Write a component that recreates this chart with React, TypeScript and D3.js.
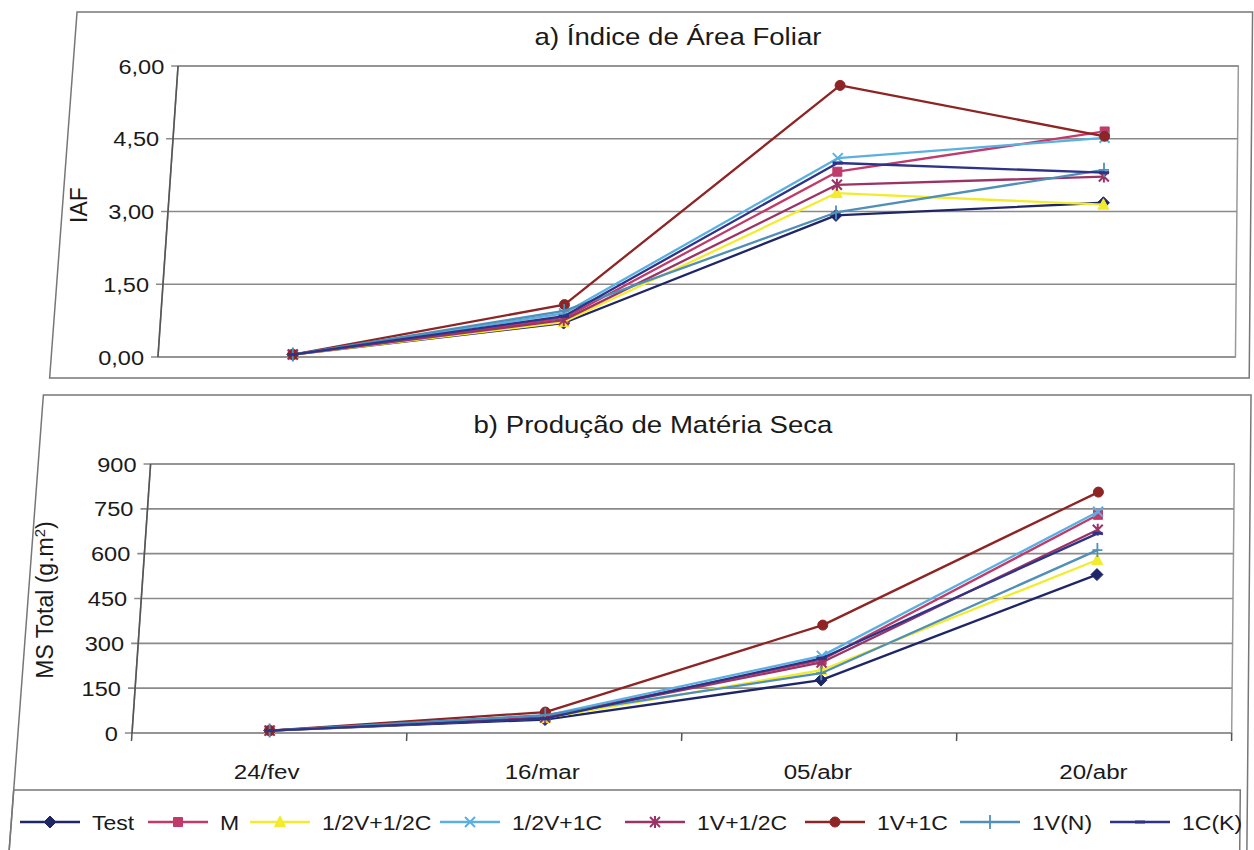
import React from "react";
import * as d3 from "d3";

// ---------- data ----------
const categories = ["24/fev", "16/mar", "05/abr", "20/abr"];
const seriesNames = ["Test", "M", "1/2V+1/2C", "1/2V+1C", "1V+1/2C", "1V+1C", "1V(N)", "1C(K)"];
const seriesColors = ["#1f2668", "#c03a6a", "#f2ec2c", "#5ab0e0", "#9b3466", "#8e2424", "#4f8fb8", "#2d3387"];
const seriesMarkers = ["diamond", "square", "triangle", "x", "star", "circle", "plus", "dash"];

// a) Índice de Área Foliar (IAF)
const iafTest = [0.05, 0.7, 2.92, 3.18];
const iafM = [0.05, 0.8, 3.82, 4.65];
const iafHalfVHalfC = [0.05, 0.72, 3.38, 3.14];
const iafHalfV1C = [0.05, 0.9, 4.1, 4.52];
const iaf1VHalfC = [0.05, 0.76, 3.55, 3.72];
const iaf1V1C = [0.05, 1.08, 5.6, 4.55];
const iaf1VN = [0.05, 0.95, 2.98, 3.86];
const iaf1CK = [0.05, 0.84, 4.0, 3.8];

// b) Produção de Matéria Seca (MS Total g.m-2)
const msTest = [8, 45, 177, 530];
const msM = [8, 55, 244, 730];
const msHalfVHalfC = [8, 50, 210, 579];
const msHalfV1C = [8, 58, 258, 740];
const ms1VHalfC = [8, 52, 236, 680];
const ms1V1C = [8, 70, 361, 806];
const ms1VN = [8, 60, 200, 612];
const ms1CK = [8, 48, 250, 668];

const iafTicks = [0, 1.5, 3, 4.5, 6];
const msTicks = [0, 150, 300, 450, 600, 750, 900];

const iafSeries = [iafTest, iafM, iafHalfVHalfC, iafHalfV1C, iaf1VHalfC, iaf1V1C, iaf1VN, iaf1CK];
const msSeries = [msTest, msM, msHalfVHalfC, msHalfV1C, ms1VHalfC, ms1V1C, ms1VN, ms1CK];

// ---------- layout ----------
const W = 1254;
const H = 850;
const X0 = 155;
const X1 = 1235;
const K0 = -0.069;
const K1 = -0.01;
const YREF = 400;
const SX = 1.15;
const FONT = "'Liberation Sans', Arial, sans-serif";

// scanned page keystone: left side leans, right side nearly upright
const warp = (x: number, y: number) => x + (K0 + ((K1 - K0) * (x - X0)) / (X1 - X0)) * (y - YREF);

const xBand = d3.scaleBand<string>().domain(categories).range([X0, X1]);
const xc = (c: string) => (xBand(c) as number) + xBand.bandwidth() / 2;
const yIaf = d3.scaleLinear().domain([0, 6]).range([357, 66]);
const yMs = d3.scaleLinear().domain([0, 900]).range([733, 464]);

const lineGen = d3.line<[number, number]>().x((d) => d[0]).y((d) => d[1]);

function Txt(props: { x: number; y: number; size: number; anchor?: string; rotate?: number; children: React.ReactNode }) {
  const { x, y, size, anchor = "start", rotate = 0, children } = props;
  const tf = rotate ? `translate(${x},${y}) rotate(${rotate})` : `translate(${x},${y}) scale(${SX},1)`;
  return (
    <text transform={tf} fontFamily={FONT} fontSize={size} textAnchor={anchor} fill="#1a1a1a">
      {children}
    </text>
  );
}

function Marker({ type, x, y, color }: { type: string; x: number; y: number; color: string }) {
  const t = `translate(${x},${y})`;
  if (type === "diamond") return <path transform={t} d="M0,-6L6,0L0,6L-6,0Z" fill={color} stroke={color} />;
  if (type === "square") return <path transform={t} d="M-4.5,-4.5H4.5V4.5H-4.5Z" fill={color} stroke={color} />;
  if (type === "triangle") return <path transform={t} d="M0,-6L5.5,4.5H-5.5Z" fill={color} stroke={color} />;
  if (type === "circle") return <circle transform={t} r={5} fill={color} stroke={color} />;
  if (type === "x") return <path transform={t} d="M-5,-5L5,5M-5,5L5,-5" stroke={color} strokeWidth={2} fill="none" />;
  if (type === "star") return <path transform={t} d="M-5,-5L5,5M-5,5L5,-5M0,-6L0,6" stroke={color} strokeWidth={2} fill="none" />;
  if (type === "plus") return <path transform={t} d="M0,-7L0,7M-5,0L5,0" stroke={color} strokeWidth={1.8} fill="none" />;
  return <path transform={t} d="M-5,0L5,0" stroke={color} strokeWidth={3} fill="none" />;
}

function Panel({ series, y, ticks, fmt }: { series: number[][]; y: d3.ScaleLinear<number, number>; ticks: number[]; fmt: (v: number) => string }) {
  const [yb, yt] = y.range();
  const box = [
    [X0, yt],
    [X1, yt],
    [X1, yb],
    [X0, yb],
  ].map(([a, b]) => `${warp(a, b)},${b}`);
  return (
    <g>
      <polygon points={box.join(" ")} fill="none" stroke="#9a9a9a" strokeWidth={1.5} />
      {ticks.map((t) => (
        <g key={t}>
          <line x1={warp(X0 - 7, y(t))} x2={warp(X1, y(t))} y1={y(t)} y2={y(t)} stroke="#8a8a8a" strokeWidth={1.6} />
          <Txt x={warp(X0 - 14, y(t))} y={y(t) + 7.5} size={20.5} anchor="end">
            {fmt(t)}
          </Txt>
        </g>
      ))}
      <line x1={warp(X0, yt)} y1={yt} x2={warp(X0, yb)} y2={yb} stroke="#555" strokeWidth={1.6} />
      {series.map((vals, i) => {
        const pts = vals.map((v, j) => {
          const yy = y(v);
          return [warp(xc(categories[j]), yy), yy] as [number, number];
        });
        return (
          <g key={i}>
            <path d={lineGen(pts) as string} fill="none" stroke={seriesColors[i]} strokeWidth={2.3} strokeLinejoin="round" />
            {pts.map((p, j) => (
              <Marker key={j} type={seriesMarkers[i]} x={p[0]} y={p[1]} color={seriesColors[i]} />
            ))}
          </g>
        );
      })}
    </g>
  );
}

const legendStarts = [20, 148, 250, 440, 625, 805, 960, 1110];

export default function App() {
  const fmtIaf = (v: number) => v.toFixed(2).replace(".", ",");
  const fmtMs = (v: number) => String(v);
  const frame = (l: number, t: number, r: number, b: number) =>
    [
      [l, t],
      [r, t],
      [r, b],
      [l, b],
    ]
      .map(([a, c]) => `${warp(a, c)},${c}`)
      .join(" ");
  const yAxisMs = yMs(0);
  return (
    <svg width={W} height={H} style={{ position: "absolute", left: 0, top: 0, background: "#fff" }}>
      <rect width={W} height={H} fill="#fff" />
      {/* chart frames */}
      <polygon points={frame(48, 12, 1249, 378)} fill="none" stroke="#777" strokeWidth={1.5} />
      <polygon points={frame(43, 395, 1251, 880)} fill="none" stroke="#777" strokeWidth={1.5} />
      <polygon points={frame(43, 790, 1244, 880)} fill="none" stroke="#777" strokeWidth={1.5} />

      {/* a) IAF */}
      <Txt x={678} y={45} size={24} anchor="middle">
        a) Índice de Área Foliar
      </Txt>
      <Txt x={87} y={205} size={23} anchor="middle" rotate={-90}>
        IAF
      </Txt>
      <Panel series={iafSeries} y={yIaf} ticks={iafTicks} fmt={fmtIaf} />

      {/* b) MS */}
      <Txt x={653} y={433} size={24} anchor="middle">
        b) Produção de Matéria Seca
      </Txt>
      <text transform={`translate(53,600) rotate(-90)`} fontFamily={FONT} fontSize={23} textAnchor="middle" fill="#1a1a1a">
        MS Total (g.m<tspan dy={-8} fontSize={15}>2</tspan>
        <tspan dy={8}>)</tspan>
      </text>
      <Panel series={msSeries} y={yMs} ticks={msTicks} fmt={fmtMs} />
      {/* x ticks for bottom chart */}
      {categories.map((c, i) => {
        const bx = (xBand(c) as number) + xBand.bandwidth();
        return <line key={"t" + i} x1={warp(bx, yAxisMs)} x2={warp(bx, yAxisMs + 8)} y1={yAxisMs} y2={yAxisMs + 8} stroke="#555" strokeWidth={1.5} />;
      })}
      <line x1={warp(X0, yAxisMs)} x2={warp(X0, yAxisMs + 8)} y1={yAxisMs} y2={yAxisMs + 8} stroke="#555" strokeWidth={1.5} />
      {categories.map((c) => (
        <Txt key={c} x={warp(xc(c), 779)} y={779} size={21} anchor="middle">
          {c}
        </Txt>
      ))}

      {/* legend */}
      {seriesNames.map((n, i) => {
        const x = legendStarts[i];
        const y = 822;
        return (
          <g key={n}>
            <line x1={x} x2={x + 60} y1={y} y2={y} stroke={seriesColors[i]} strokeWidth={2.3} />
            <Marker type={seriesMarkers[i]} x={x + 30} y={y} color={seriesColors[i]} />
            <Txt x={x + 72} y={y + 8} size={20}>
              {n}
            </Txt>
          </g>
        );
      })}
    </svg>
  );
}
